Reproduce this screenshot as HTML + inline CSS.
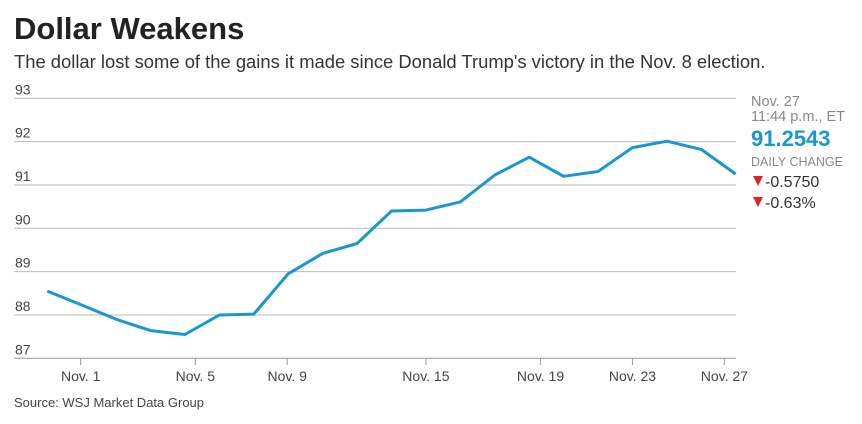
<!DOCTYPE html>
<html><head><meta charset="utf-8"><style>
body{margin:0;background:#fff;width:862px;height:424px;overflow:hidden;font-family:"Liberation Sans",sans-serif;}
svg{position:absolute;left:0;top:0}
</style></head><body>
<svg width="862" height="424">
<text x="14" y="39" font-size="31" font-weight="bold" fill="#222">Dollar Weakens</text>
<text x="14" y="68" font-size="18.4" fill="#333">The dollar lost some of the gains it made since Donald Trump's victory in the Nov. 8 election.</text>
<g id="grid"></g><g id="xaxis"></g>
<path id="line" fill="none" stroke="#1a96d4" stroke-width="3" stroke-linejoin="round"></path>
<text x="14" y="407" font-size="13" fill="#444">Source: WSJ Market Data Group</text>
<g>
<text x="751" y="106" font-size="14.5" fill="#888">Nov. 27</text>
<text x="751" y="121" font-size="14.5" fill="#888">11:44 p.m., ET</text>
<text x="751" y="146" font-size="22" font-weight="bold" fill="#1a96d4">91.2543</text>
<text x="751" y="166" font-size="12.5" fill="#888">DAILY CHANGE</text>
<path d="M753,176 L763,176 L758,186 Z" fill="#d9262b"/>
<text x="765" y="187" font-size="16" fill="#333">-0.5750</text>
<path d="M753,197 L763,197 L758,207 Z" fill="#d9262b"/>
<text x="765" y="208" font-size="16" fill="#333">-0.63%</text>
</g>
</svg>
<script>
const values=[88.55,88.23,87.90,87.64,87.55,88.0,88.02,88.95,89.42,89.65,90.40,90.42,90.61,91.23,91.64,91.20,91.31,91.86,92.01,91.82,91.25];
const yTicks=[87,88,89,90,91,92,93];
const xTickLabels=["Nov. 1","Nov. 5","Nov. 9","Nov. 15","Nov. 19","Nov. 23","Nov. 27"];
const xTickIndex=[0.97,4.3,6.97,11.0,14.33,17.0,19.67];
const NS="http://www.w3.org/2000/svg";
const x0=47.3,step=(735.7-47.3)/20;
function xs(i){return x0+i*step;}
function ys(v){return 358.3-(v-87)*43.33;}
const grid=document.getElementById('grid');
yTicks.forEach(t=>{
 const l=document.createElementNS(NS,'line');
 l.setAttribute('x1',14);l.setAttribute('x2',736);l.setAttribute('y1',ys(t));l.setAttribute('y2',ys(t));
 l.setAttribute('stroke',t===87?'#999':'#bbb');l.setAttribute('stroke-width',1);
 
 
 grid.appendChild(l);
 const tx=document.createElementNS(NS,'text');
 tx.setAttribute('x',15);tx.setAttribute('y',ys(t)-4);tx.setAttribute('font-size','14');tx.setAttribute('fill','#444');
 tx.textContent=t;
 
 
 grid.appendChild(tx);
});
const xa=document.getElementById('xaxis');
xTickLabels.forEach((lab,k)=>{
 const x=xs(xTickIndex[k]);
 const l=document.createElementNS(NS,'line');
 l.setAttribute('x1',x);l.setAttribute('x2',x);l.setAttribute('y1',358);l.setAttribute('y2',365);l.setAttribute('stroke','#999');
 
 
 xa.appendChild(l);
 const tx=document.createElementNS(NS,'text');
 tx.setAttribute('x',x);tx.setAttribute('y',381);tx.setAttribute('font-size','14');tx.setAttribute('fill','#444');tx.setAttribute('text-anchor','middle');
 tx.textContent=lab;
 
 
 xa.appendChild(tx);
});
document.getElementById('line').setAttribute('d',values.map((v,i)=>(i?'L':'M')+xs(i).toFixed(1)+','+ys(v).toFixed(1)).join(' '));
</script>
</body></html>
